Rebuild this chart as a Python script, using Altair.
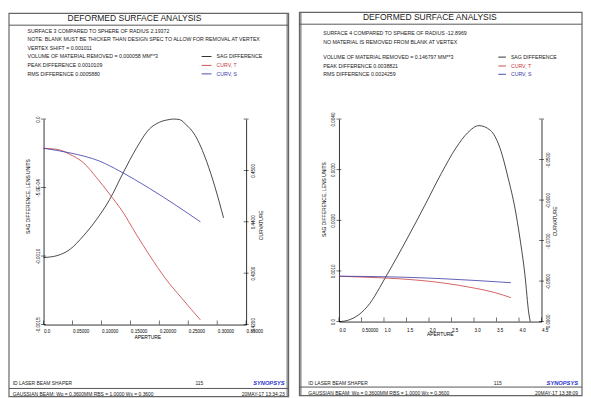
import json
import altair as alt
import pandas as pd

FONT = "Liberation Sans"
BLACK = "#1a1a1a"
RED = "#c83c3c"
BLUE = "#3838a8"

# ---------------- data: left panel (surface 3) ----------------
L_SAG_AP = [0.0, 0.0234, 0.046, 0.0688, 0.0916, 0.114, 0.137, 0.160, 0.183, 0.200, 0.217, 0.224, 0.235, 0.245, 0.262, 0.282, 0.296, 0.311]
L_SAG = [-0.001011, -0.000997, -0.000950, -0.000853, -0.000733, -0.000589, -0.000397, -0.000216, -0.000072, -0.000024,
         -0.000004, 0.0, -0.000004, -0.000036, -0.000120, -0.000312, -0.000493, -0.000721]
L_T_AP = [0.0, 0.0234, 0.046, 0.0688, 0.0916, 0.114, 0.137, 0.160, 0.183, 0.211, 0.239, 0.271]
L_T = [0.4543, 0.4541, 0.4531, 0.4515, 0.4486, 0.4454, 0.4419, 0.4376, 0.4335, 0.4289, 0.4251, 0.4209]
L_S_AP = [0.0, 0.046, 0.097, 0.131, 0.183, 0.271]
L_S = [0.4543, 0.4534, 0.4518, 0.4499, 0.4465, 0.4400]

# ---------------- data: right panel (surface 4) ----------------
R_SAG_AP = [0.0, 0.125, 0.634, 1.07, 1.51, 1.91, 2.27, 2.60, 2.86, 3.11, 3.36, 3.58, 3.76, 3.91, 4.02, 4.13, 4.22, 4.25]
R_SAG = [0.0, 0.00001, 0.00030, 0.00093, 0.00163, 0.00230, 0.00292, 0.00343, 0.00373, 0.00387, 0.00378, 0.00342,
         0.00283, 0.00224, 0.00165, 0.000935, 0.00015, 0.0]
R_T_AP = [0.0, 0.48, 1.29, 2.27, 3.04, 3.45, 3.82]
R_T = [-0.0788, -0.0790, -0.0794, -0.0804, -0.0818, -0.0828, -0.0841]
R_S_AP = [0.0, 1.29, 2.27, 3.82]
R_S = [-0.0788, -0.0790, -0.0794, -0.0804]

# ---------------- axes ticks / labels ----------------
L_X_VALS = [0.0, 0.05, 0.1, 0.15, 0.2, 0.25, 0.3, 0.35]
L_X_LABS = ["0.0", "0.05000", "0.10000", "0.15000", "0.20000", "0.25000", "0.30000", "0.35000"]
L_Y_VALS = [0.0, -0.0005, -0.001, -0.0015]
L_Y_LABS = ["0.0", "-5.0E-04", "-0.0010", "-0.0015"]
L_C_VALS = [0.42, 0.43, 0.44, 0.45, 0.46]
L_C_LABS = ["0.4200", "0.4300", "0.4400", "0.4500", ""]

R_X_VALS = [0.0, 0.5, 1.0, 1.5, 2.0, 2.5, 3.0, 3.5, 4.0, 4.5]
R_X_LABS = ["0.0", "0.50000", "1.0", "1.5", "2.0", "2.5", "3.0", "3.5", "4.0", "4.5"]
R_Y_VALS = [0.0, 0.001, 0.002, 0.003, 0.004]
R_Y_LABS = ["0.0", "0.0010", "0.0020", "0.0030", "0.0040"]
R_C_VALS = [-0.09, -0.08, -0.07, -0.06, -0.05, -0.04]
R_C_LABS = ["-0.0900", "-0.0800", "-0.0700", "-0.0600", "-0.0500", ""]

SERIES = ["CURV, T", "CURV, S"]

L_HEAD = ["SURFACE  3 COMPARED TO SPHERE OF RADIUS   2.19372",
          "NOTE: BLANK MUST BE THICKER THAN DESIGN SPEC TO ALLOW FOR REMOVAL AT VERTEX",
          "VERTEX SHIFT =  0.001011",
          "VOLUME OF MATERIAL REMOVED =  0.000058 MM**3",
          "PEAK DIFFERENCE  0.0010109",
          "RMS DIFFERENCE  0.0005880"]
R_HEAD = ["SURFACE  4 COMPARED TO SPHERE OF RADIUS  -12.8969",
          "NO MATERIAL IS REMOVED FROM BLANK AT VERTEX",
          "VOLUME OF MATERIAL REMOVED =  0.146797 MM**3",
          "PEAK DIFFERENCE  0.0038821",
          "RMS DIFFERENCE  0.0024259"]
LEGEND = ["SAG DIFFERENCE", "CURV, T", "CURV, S"]
FOOT1 = "ID LASER BEAM SHAPER"
FOOT2 = "GAUSSIAN BEAM: Wo = 0.3600MM   RBS = 1.0000 Wx = 0.3600"
PAGE = "115"
L_DATE = "20MAY-17  13:34:23"
R_DATE = "20MAY-17  13:38:09"
TITLE = "DEFORMED SURFACE ANALYSIS"


def lab_expr(vals, labs):
    return f"{json.dumps(labs)}[indexof({json.dumps(vals)}, datum.value)]"


ONE = alt.Data(values=[{"k": 0}])


def txt(s, x, y, size=5.3, color=BLACK, align="left", weight="normal", style="normal"):
    return alt.Chart(ONE).mark_text(text=s, align=align, baseline="middle", font=FONT, fontSize=size,
                                    color=color, fontWeight=weight, fontStyle=style).encode(
        x=alt.value(x), y=alt.value(y))


def hrule(x1, x2, y, color="#555555", w=1.0):
    return alt.Chart(ONE).mark_rule(color=color, strokeWidth=w).encode(
        x=alt.value(x1), x2=alt.value(x2), y=alt.value(y))


def vrule(x, y1, y2, color="#999999", w=2.4):
    return alt.Chart(ONE).mark_rule(color=color, strokeWidth=w).encode(
        x=alt.value(x), y=alt.value(y1), y2=alt.value(y2))


AX = dict(grid=False, ticks=False, tickSize=0, domainColor="#000", domainWidth=0.8, labelFont=FONT,
          labelFontSize=4.6, labelColor="#000", labelOverlap=False, labelFlush=False, titleFont=FONT,
          titleFontSize=5, titleFontWeight="normal", titleColor="#000")


def panel(sag_ap, sag, t_ap, t, s_ap, s, xv, xl, yv, yl, cv, cl, h, lay, head, date):
    w = 205
    xdom = [xv[0], xv[-1]]
    ydom = [min(yv), max(yv)]
    cdom = [min(cv), max(cv)]
    xaxis = alt.Axis(orient="bottom", values=xv, labelExpr=lab_expr(xv, xl), labelAlign="left",
                     labelBaseline="top", labelPadding=lay["xlp"], title="APERTURE", titleX=lay["xt"][0],
                     titleY=lay["xt"][1], titleAlign="center", titleBaseline="middle", **AX)
    xenc = alt.X("ap:Q", scale=alt.Scale(domain=xdom, nice=False, zero=False), axis=xaxis)
    yaxis = alt.Axis(orient="left", values=yv, labelExpr=lab_expr(yv, yl), labelAngle=270, labelAlign="center",
                     labelBaseline="bottom", labelPadding=3.5, title="SAG DIFFERENCE, LENS UNITS",
                     titleAngle=270, titleX=lay["yt"][0], titleY=lay["yt"][1], titleAlign="center",
                     titleBaseline="middle", **AX)
    caxis = alt.Axis(orient="right", values=cv, labelExpr=lab_expr(cv, cl), labelAngle=270, labelAlign="center",
                     labelBaseline="top", labelPadding=4.5, title="CURVATURE", titleAngle=270,
                     titleX=lay["ct"][0], titleY=lay["ct"][1], titleAlign="center", titleBaseline="middle", **AX)

    sag_df = pd.DataFrame({"ap": sag_ap, "val": sag})
    curv_df = pd.concat([pd.DataFrame({"ap": t_ap, "val": t, "series": SERIES[0]}),
                         pd.DataFrame({"ap": s_ap, "val": s, "series": SERIES[1]})])

    fx1, fx2, fy1, fy2 = lay["frame"]
    layers = [
        vrule(lay["inner"], fy1, fy2),
        alt.Chart(ONE).mark_rect(fillOpacity=0, stroke="#666666", strokeWidth=1.2).encode(
            x=alt.value(fx1), x2=alt.value(fx2), y=alt.value(fy1), y2=alt.value(fy2)),
        hrule(fx1, fx2, lay["tline"]),
        hrule(fx1, fx2, lay["fline"]),
        txt(TITLE, lay["title"][0], lay["title"][1], size=8.6, align="center"),
    ]
    for s_, y_ in zip(head, lay["head_y"]):
        layers.append(txt(s_, lay["head_x"], y_))
    for lab, col, y_ in zip(LEGEND, [BLACK, RED, BLUE], lay["leg_y"]):
        layers.append(hrule(lay["leg_x"][0], lay["leg_x"][1], y_, color=col, w=0.9))
        layers.append(txt(lab, lay["leg_x"][2], y_, color=col))
    fl = lay["foot"]
    layers += [
        txt(FOOT1, fl[0], fl[1], size=5),
        txt(PAGE, fl[2], fl[1], size=5),
        txt("SYNOPSYS", fl[3], fl[1], size=5.8, color="#1f2fd0", align="right", weight="bold", style="italic"),
        txt(FOOT2, fl[0], fl[4], size=5),
        txt(date, fl[3], fl[4], size=5, align="right"),
    ]
    # axis ticks (inside for x, crossing for y)
    layers.append(alt.Chart(pd.DataFrame({"ap": xv})).mark_tick(orient="vertical", size=4, thickness=0.8,
                                                                   color="#000").encode(x=xenc, y=alt.value(h - 2)))
    # lines
    layers.append(alt.Chart(sag_df).mark_line(color=BLACK, strokeWidth=0.8, interpolate="monotone").encode(
        x=xenc, y=alt.Y("val:Q", scale=alt.Scale(domain=ydom, nice=False, zero=False), axis=yaxis)))
    layers.append(alt.Chart(curv_df).mark_line(strokeWidth=0.8, interpolate="monotone").encode(
        x=xenc, y=alt.Y("val:Q", scale=alt.Scale(domain=cdom, nice=False, zero=False), axis=caxis),
        color=alt.Color("series:N", scale=alt.Scale(domain=SERIES, range=[RED, BLUE]), legend=None)))
    layers.append(alt.Chart(pd.DataFrame({"v": yv})).mark_tick(orient="horizontal", size=5, thickness=0.8,
                                                                 color="#000").encode(
        y=alt.Y("v:Q", scale=alt.Scale(domain=ydom, nice=False, zero=False), axis=None), x=alt.value(0)))
    layers.append(alt.Chart(pd.DataFrame({"v": cv})).mark_tick(orient="horizontal", size=5, thickness=0.8,
                                                                 color="#000").encode(
        y=alt.Y("v:Q", scale=alt.Scale(domain=cdom, nice=False, zero=False), axis=None), x=alt.value(w)))
    return alt.layer(*layers).resolve_scale(y="independent").properties(width=w, height=h)


L_LAY = dict(frame=(-35, 248, -107, 281), inner=247, tline=-95, fline=272.7, title=(92, -102.7),
             head_x=-16.3, head_y=[-89, -80.7, -72.3, -63.3, -54.3, -45.7],
             leg_y=[-63.3, -54.3, -45.7], leg_x=(160, 170, 175),
             foot=(-31.3, 267.7, 153.7, 244, 278.3), xt=(105, 12), yt=(-16.3, 78), ct=(15, 107), xlp=4)
R_LAY = dict(frame=(-40, 246, -108, 280), inner=-39, tline=-96, fline=271.3, title=(92, -103.5),
             head_x=-16, head_y=[-86.7, -78.3, -62.7, -53.7, -45.3],
             leg_y=[-62.7, -53.7, -45.3], leg_x=(161.3, 169, 174),
             foot=(-31, 267, 156.7, 242, 277), xt=(102, 12), yt=(-15.3, 81), ct=(13, 103), xlp=6)

left = panel(L_SAG_AP, L_SAG, L_T_AP, L_T, L_S_AP, L_S, L_X_VALS, L_X_LABS, L_Y_VALS, L_Y_LABS,
             L_C_VALS, L_C_LABS, 208, L_LAY, L_HEAD, L_DATE)
right = panel(R_SAG_AP, R_SAG, R_T_AP, R_T, R_S_AP, R_S, R_X_VALS, R_X_LABS, R_Y_VALS, R_Y_LABS,
              R_C_VALS, R_C_LABS, 205, R_LAY, R_HEAD, R_DATE)

chart = alt.hconcat(left, right, spacing=9).properties(padding=0).configure_view(stroke=None)
chart.save("out.html", embed_options={"renderer": "svg", "actions": False})
